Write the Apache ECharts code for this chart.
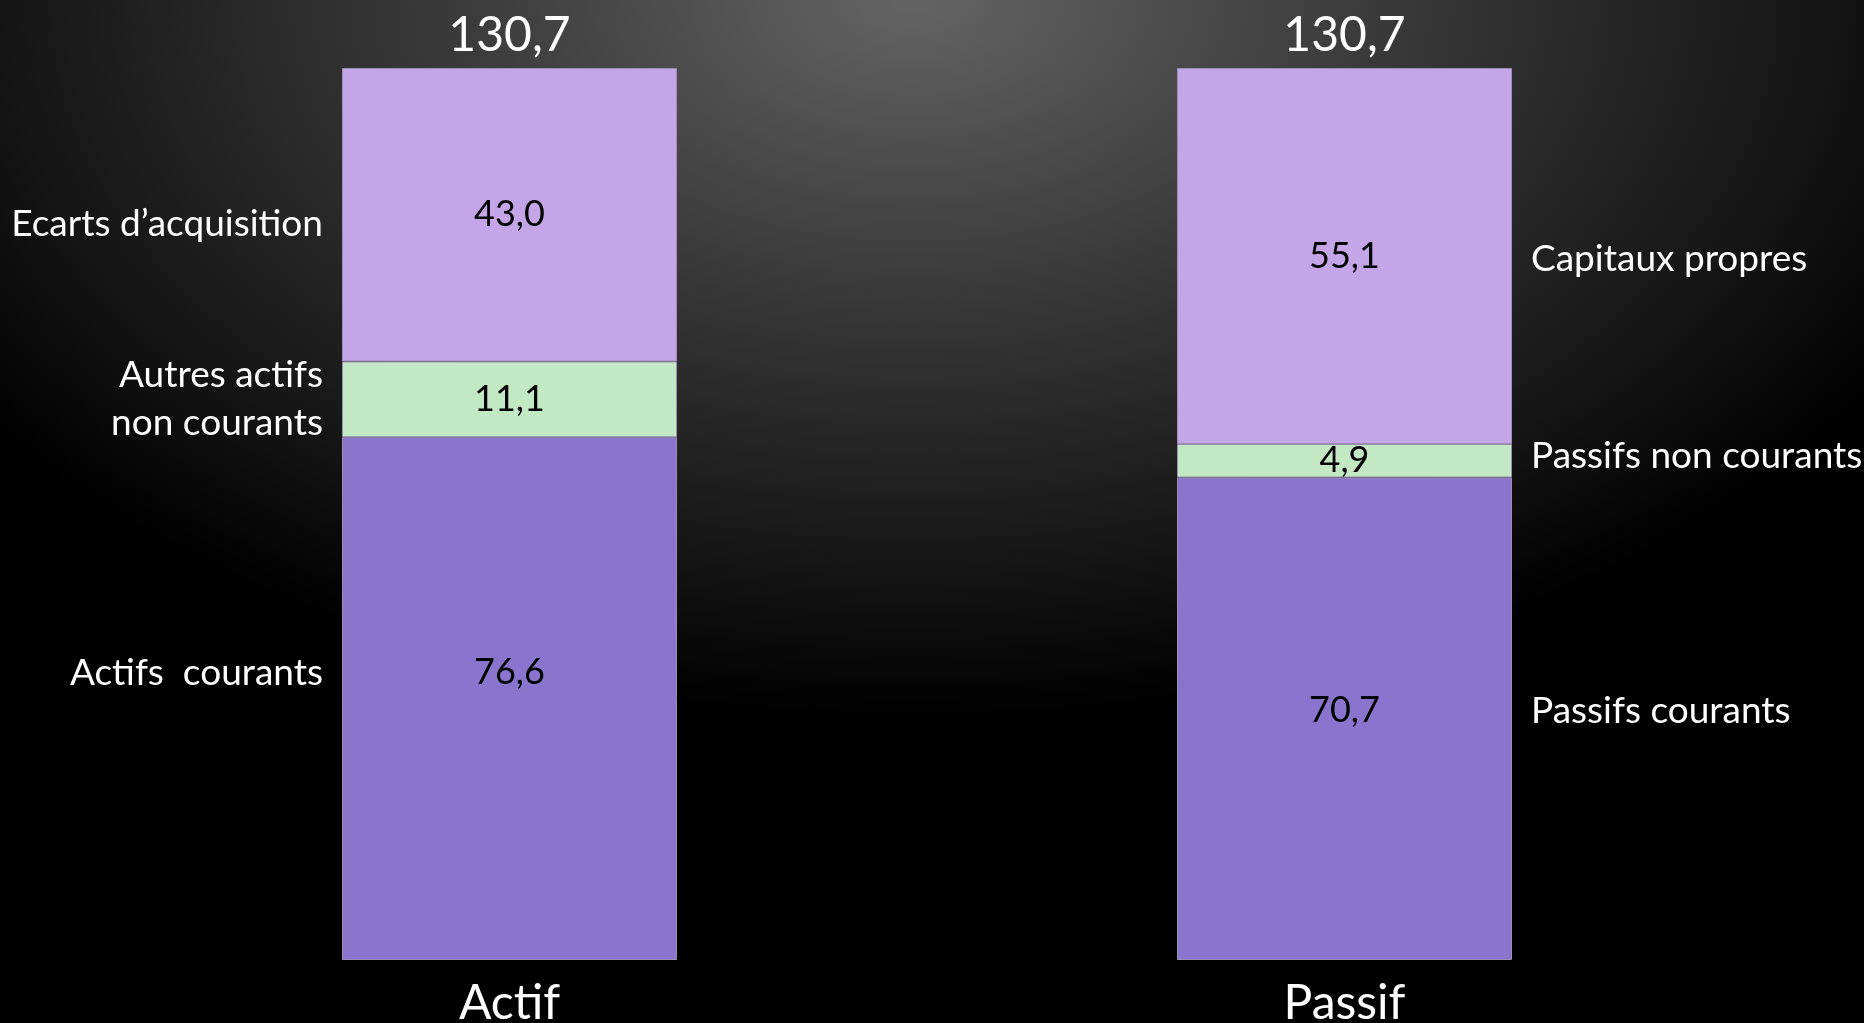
<!DOCTYPE html>
<html>
<head>
<meta charset="utf-8">
<script src="https://cdn.jsdelivr.net/npm/echarts@6/dist/echarts.min.js"></script>
<style>
  html, body { margin: 0; padding: 0; }
  body {
    width: 1864px; height: 1023px; overflow: hidden;
    background: radial-gradient(ellipse 1150px 720px at 49% 0%, #646464 0%, #3a3a3a 40%, #141414 80%, #000 100%);
  }
  #chart { width: 1864px; height: 1023px; }
</style>
</head>
<body>
<div id="chart"></div>
<script>
const categories = ['Actif', 'Passif'];

// du bas vers le haut
const currentValues = [76.6, 70.7];
const nonCurrentValues = [11.1, 4.9];
const topValues = [43.0, 55.1];
const totals = [130.7, 130.7];

const actifLabels = ['Actifs  courants', 'Autres actifs\nnon courants', 'Ecarts d’acquisition'];
const passifLabels = ['Passifs courants', 'Passifs non courants', 'Capitaux propres'];

const FONT = 'Lato, "Open Sans", sans-serif';
const colors = ['#8b74cd', '#c2e9c4', '#c4a5e8'];
const BAR_W = 335;

// petits decalages verticaux des etiquettes (comme sur la diapo)
const valueShift = [[-26, -8], [0, 0], [0, 0]];
const sideShift = [[-26, -8], [0, -5], [9, 3]];

const fmt = v => v.toFixed(1).replace('.', ',');

function initChart() {
  const chart = echarts.init(document.getElementById('chart'));
  const layers = [currentValues, nonCurrentValues, topValues];

  const series = [];

  layers.forEach((vals, i) => {
    series.push({
      type: 'bar',
      stack: 'main',
      xAxisIndex: 0,
      barWidth: BAR_W,
      data: vals.map((v, j) => ({
        value: v,
        label: { offset: [0, valueShift[i][j]] }
      })),
      itemStyle: { color: colors[i], borderColor: '#9c8fb3', borderWidth: 1 },
      label: {
        show: true,
        position: 'inside',
        color: '#000',
        fontFamily: FONT,
        fontSize: 36,
        formatter: p => fmt(p.value)
      },
      silent: true
    });

    // etiquettes laterales (barres invisibles superposees)
    series.push({
      type: 'bar',
      stack: 'side',
      xAxisIndex: 1,
      barWidth: BAR_W,
      data: vals.map((v, j) => ({
        value: v,
        label: {
          position: j === 0 ? 'left' : 'right',
          align: j === 0 ? 'right' : 'left',
          offset: [0, sideShift[i][j]],
          formatter: j === 0 ? actifLabels[i] : passifLabels[i]
        }
      })),
      itemStyle: { color: 'transparent' },
      label: {
        show: true,
        distance: 19,
        color: '#fff',
        fontFamily: FONT,
        fontSize: 37,
        lineHeight: 48
      },
      silent: true
    });
  });

  series.push({
    type: 'scatter',
    xAxisIndex: 0,
    symbolSize: 0,
    data: totals,
    itemStyle: { opacity: 1 },
    label: {
      show: true,
      position: 'top',
      distance: 8,
      color: '#fff',
      opacity: 1,
      fontFamily: FONT,
      fontSize: 48,
      formatter: p => fmt(p.value)
    },
    silent: true
  });

  chart.setOption({
    backgroundColor: 'transparent',
    animation: false,
    grid: { left: 92, right: 102, top: 68, bottom: 63, containLabel: false, outerBoundsMode: 'none' },
    xAxis: [
      {
        type: 'category',
        data: categories,
        axisLine: { show: false },
        axisTick: { show: false },
        axisLabel: { color: '#fff', fontFamily: FONT, fontSize: 48, margin: 20 }
      },
      {
        type: 'category',
        data: categories,
        show: false
      }
    ],
    yAxis: { type: 'value', min: 0, max: 130.7, show: false, splitLine: { show: false } },
    series
  });
}

document.addEventListener('DOMContentLoaded', initChart);
</script>
</body>
</html>
